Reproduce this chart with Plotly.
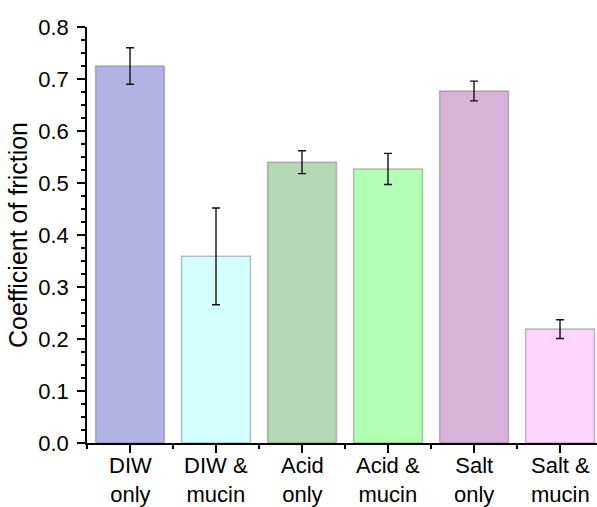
import plotly.graph_objects as go

categories = ["DIW<br>only", "DIW &<br>mucin", "Acid<br>only", "Acid &<br>mucin", "Salt<br>only", "Salt &<br>mucin"]
cof_mean = [0.725, 0.359, 0.540, 0.527, 0.677, 0.219]
cof_err = [0.035, 0.093, 0.022, 0.030, 0.019, 0.018]
bar_colors = ["#B2B2E4", "#D4FFFF", "#B3D8B3", "#B3FFB3", "#D8B3D8", "#FFD4FF"]
y_ticks = [0.0, 0.1, 0.2, 0.3, 0.4, 0.5, 0.6, 0.7, 0.8]

xpos = list(range(len(categories)))

fig = go.Figure()
fig.add_trace(go.Bar(
    x=xpos, y=cof_mean, width=0.8,
    marker=dict(color=bar_colors, line=dict(color="rgba(110,110,110,0.45)", width=1.5)),
    error_y=dict(type="data", array=cof_err, visible=True, color="#111111", thickness=1.4, width=4),
    showlegend=False,
))

font = "Liberation Sans, Arial, sans-serif"

for xp, lab in zip(xpos, categories):
    fig.add_annotation(
        x=xp, y=0, xref="x", yref="y", text=lab, showarrow=False,
        yanchor="top", xanchor="center", yshift=-9, borderpad=0,
        font=dict(size=22, family=font, color="black"),
    )

fig.update_layout(
    width=597, height=507,
    margin=dict(l=87, r=0, t=27, b=64),
    paper_bgcolor="white", plot_bgcolor="white",
    font=dict(family=font, color="black"),
    xaxis=dict(
        range=[-0.5, 5.43], tickmode="array", tickvals=xpos, ticktext=[""] * len(xpos),
        showline=True, linecolor="black", linewidth=1.5,
        ticks="outside", ticklen=8, tickwidth=1.5, tickcolor="black",
        minor=dict(tickmode="linear", tick0=-0.5, dtick=1, ticks="outside", ticklen=4, tickwidth=1.5, tickcolor="black"),
        showgrid=False, zeroline=False, automargin=False,
    ),
    yaxis=dict(
        range=[0, 0.8], tickmode="array", tickvals=y_ticks,
        ticktext=[f"{v:.1f}" for v in y_ticks],
        showline=True, linecolor="black", linewidth=1.5,
        ticks="outside", ticklen=8, tickwidth=1.5, tickcolor="black",
        tickfont=dict(size=22, family=font, color="black"),
        ticklabelstandoff=4,
        minor=dict(tickmode="linear", tick0=0, dtick=0.025, ticks="outside", ticklen=4, tickwidth=1.5, tickcolor="black"),
        title=dict(text="Coefficient of friction", font=dict(size=25, family=font, color="black"), standoff=4),
        showgrid=False, zeroline=False, automargin=False,
    ),
)

fig.write_html("out.html")
